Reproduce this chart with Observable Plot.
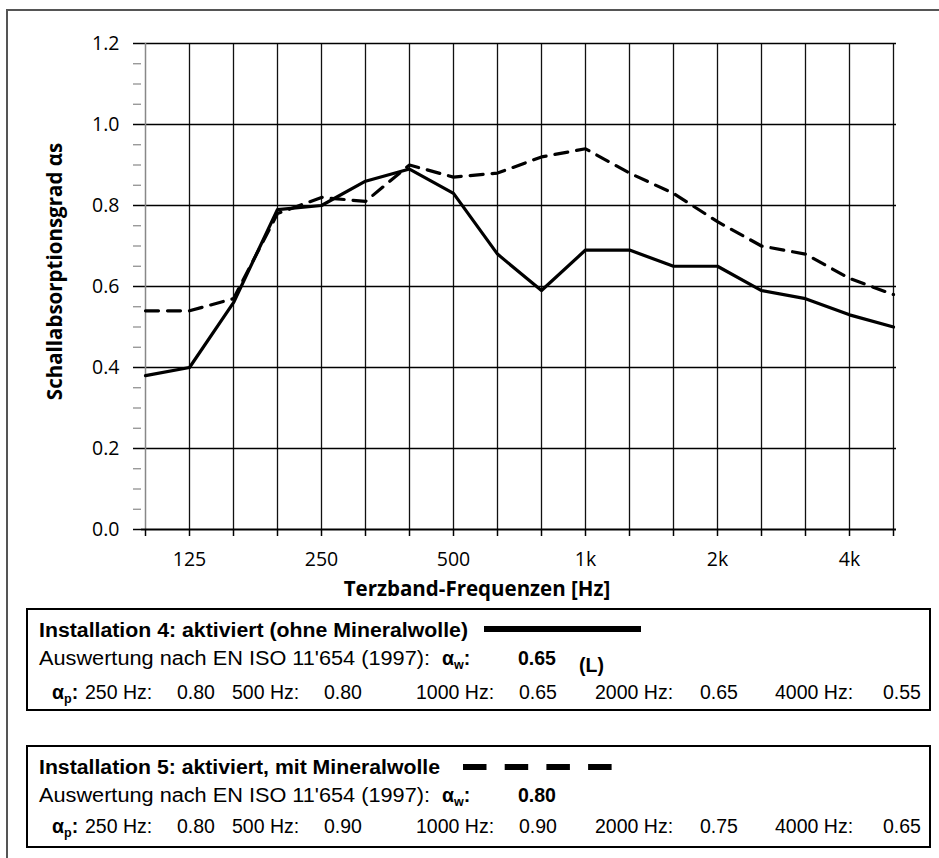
<!DOCTYPE html>
<html>
<head>
<meta charset="utf-8">
<script src="https://cdn.jsdelivr.net/npm/d3@7"></script>
<script src="https://cdn.jsdelivr.net/npm/@observablehq/plot@0.6"></script>
<style>
  html, body { margin: 0; padding: 0; background: #fff; }
  #page { position: relative; width: 939px; height: 858px; overflow: hidden; background: #fff; }
  #chart { position: absolute; left: 0; top: 0; }
  #overlay { position: absolute; left: 0; top: 0; }
</style>
</head>
<body>
<div id="page">
  <div id="chart"></div>
  <svg id="overlay" width="939" height="858"></svg>
</div>
<script>
// ---- data ----
const freqs = [100, 125, 160, 200, 250, 315, 400, 500, 630, 800, 1000, 1250, 1600, 2000, 2500, 3150, 4000, 5000];
const alphaInst4 = [0.38, 0.40, 0.56, 0.79, 0.80, 0.86, 0.89, 0.83, 0.68, 0.59, 0.69, 0.69, 0.65, 0.65, 0.59, 0.57, 0.53, 0.50];
const alphaInst5 = [0.54, 0.54, 0.57, 0.78, 0.82, 0.81, 0.90, 0.87, 0.88, 0.92, 0.94, 0.88, 0.83, 0.76, 0.70, 0.68, 0.62, 0.58];
const xTickValues = [125, 250, 500, 1000, 2000, 4000];
const xTickLabels = ["125", "250", "500", "1k", "2k", "4k"];
const yMajorTicks = [0, 0.2, 0.4, 0.6, 0.8, 1.0, 1.2];
const yMinorTicks = [0.05, 0.1, 0.15, 0.25, 0.3, 0.35, 0.45, 0.5, 0.55, 0.65, 0.7, 0.75, 0.85, 0.9, 0.95, 1.05, 1.1, 1.15];
const xTitle = "Terzband-Frequenzen [Hz]";
const yTitle = "Schallabsorptionsgrad αs";

const legendTitles = ["Installation 4: aktiviert (ohne Mineralwolle)", "Installation 5: aktiviert, mit Mineralwolle"];
const evalText = "Auswertung nach EN ISO 11'654 (1997):";
const alphaW = ["0.65", "0.80"];
const alphaWSuffix = ["(L)", ""];
const practicalBands = ["250 Hz:", "500 Hz:", "1000 Hz:", "2000 Hz:", "4000 Hz:"];
const alphaPInst4 = ["0.80", "0.80", "0.65", "0.65", "0.55"];
const alphaPInst5 = ["0.80", "0.90", "0.90", "0.75", "0.65"];

const rows4 = freqs.map((f, i) => ({f, a: alphaInst4[i]}));
const rows5 = freqs.map((f, i) => ({f, a: alphaInst5[i]}));
const xLabelOf = new Map(xTickValues.map((v, i) => [v, xTickLabels[i]]));

// ---- chart ----
const chart = Plot.plot({
  width: 939,
  height: 610,
  marginLeft: 141,
  marginRight: 43,
  marginTop: 43,
  marginBottom: 81,
  style: {fontFamily: "'Open Sans', 'Noto Sans', sans-serif", fontSize: "19.5px", color: "#000", background: "transparent", overflow: "visible"},
  x: {type: "point", domain: freqs, padding: 0},
  y: {domain: [0, 1.2]},
  marks: [
    Plot.gridX(freqs.slice(1), {stroke: "#111", strokeOpacity: 1, strokeWidth: 1.3}),
    Plot.gridY(yMajorTicks.slice(1), {stroke: "#000", strokeOpacity: 1, strokeWidth: 1.7}),
    Plot.ruleX([freqs[0]], {stroke: "#888", strokeWidth: 1.5}),
    Plot.axisY(yMinorTicks, {tickSize: 8, tickFormat: () => "", stroke: "#888", strokeWidth: 1.2, label: null}),
    Plot.axisY(yMajorTicks, {tickSize: 8, tickPadding: 14, tickFormat: d3.format(".1f"), stroke: "#000", strokeWidth: 1.5, label: null}),
    Plot.ruleY([0], {stroke: "#000", strokeWidth: 2.2}),
    Plot.axisX(freqs, {tickSize: 7, tickFormat: () => "", stroke: "#000", strokeWidth: 1.5, label: null}),
    Plot.axisX(xTickValues, {tickSize: 0, tickPadding: 23, tickFormat: d => xLabelOf.get(d), label: null}),
    Plot.line(rows5, {x: "f", y: "a", stroke: "#000", strokeWidth: 3.2, strokeDasharray: "13,9"}),
    Plot.line(rows4, {x: "f", y: "a", stroke: "#000", strokeWidth: 3.2}),
    Plot.text([xTitle], {frameAnchor: "bottom", dx: -42, dy: 66, lineAnchor: "bottom", textAnchor: "middle", fontWeight: "bold", fontSize: 20.5}),
    Plot.text([yTitle], {frameAnchor: "left", dx: -86, dy: -15, rotate: -90, lineAnchor: "middle", textAnchor: "middle", fontWeight: "bold", fontSize: 20.5})
  ]
});
document.getElementById("chart").appendChild(chart);

// ---- frame & legend boxes ----
const svg = d3.select("#overlay");
svg.append("rect").attr("x", 7).attr("y", 10).attr("width", 1000).attr("height", 1000)
  .attr("fill", "none").attr("stroke", "#555").attr("stroke-width", 2);

const font = "'Liberation Sans', Arial, sans-serif";
const fs = 19.5;
const boxTops = [609, 746];
const titleWidths = [429, 401];
const evalWidth = 391;
const labelX = [85, 232, 416, 595, 775];
const valueX = [177, 324, 519, 700, 883];
const alphaPs = [alphaPInst4, alphaPInst5];

function addText(g, x, y, str, bold, width) {
  const t = g.append("text").attr("x", x).attr("y", y).attr("font-family", font).attr("font-size", fs)
    .attr("font-weight", bold ? "bold" : "normal").attr("fill", "#000").text(str);
  if (width) t.attr("textLength", width).attr("lengthAdjust", "spacingAndGlyphs");
  return t;
}
function addAlpha(g, x, y, sub) {
  const t = g.append("text").attr("x", x).attr("y", y).attr("font-family", font).attr("font-size", fs)
    .attr("font-weight", "bold").attr("fill", "#000");
  t.append("tspan").text("α");
  t.append("tspan").attr("dy", 4).attr("font-size", 12.5).text(sub);
  t.append("tspan").attr("dy", -4).text(":");
}

boxTops.forEach((top, k) => {
  const g = svg.append("g");
  g.append("rect").attr("x", 27).attr("y", top).attr("width", 903).attr("height", 101)
    .attr("fill", "#fff").attr("stroke", "#000").attr("stroke-width", 2);
  addText(g, 39, top + 28, legendTitles[k], true, titleWidths[k]);
  if (k === 0) {
    g.append("line").attr("x1", 484).attr("x2", 641).attr("y1", top + 20).attr("y2", top + 20)
      .attr("stroke", "#000").attr("stroke-width", 6);
  } else {
    g.append("line").attr("x1", 463).attr("x2", 613).attr("y1", top + 21).attr("y2", top + 21)
      .attr("stroke", "#000").attr("stroke-width", 6).attr("stroke-dasharray", "23.5,18.2");
  }
  addText(g, 39, top + 56, evalText, false, evalWidth);
  addAlpha(g, 442, top + 56, "w");
  addText(g, 518, top + 56, alphaW[k], true);
  if (alphaWSuffix[k]) addText(g, 579, top + 63, alphaWSuffix[k], true);
  addAlpha(g, 52, top + 90 - k * 3, "p");
  practicalBands.forEach((b, i) => {
    addText(g, labelX[i], top + 90 - k * 3, b, false);
    addText(g, valueX[i], top + 90 - k * 3, alphaPs[k][i], false);
  });
});
</script>
</body>
</html>
